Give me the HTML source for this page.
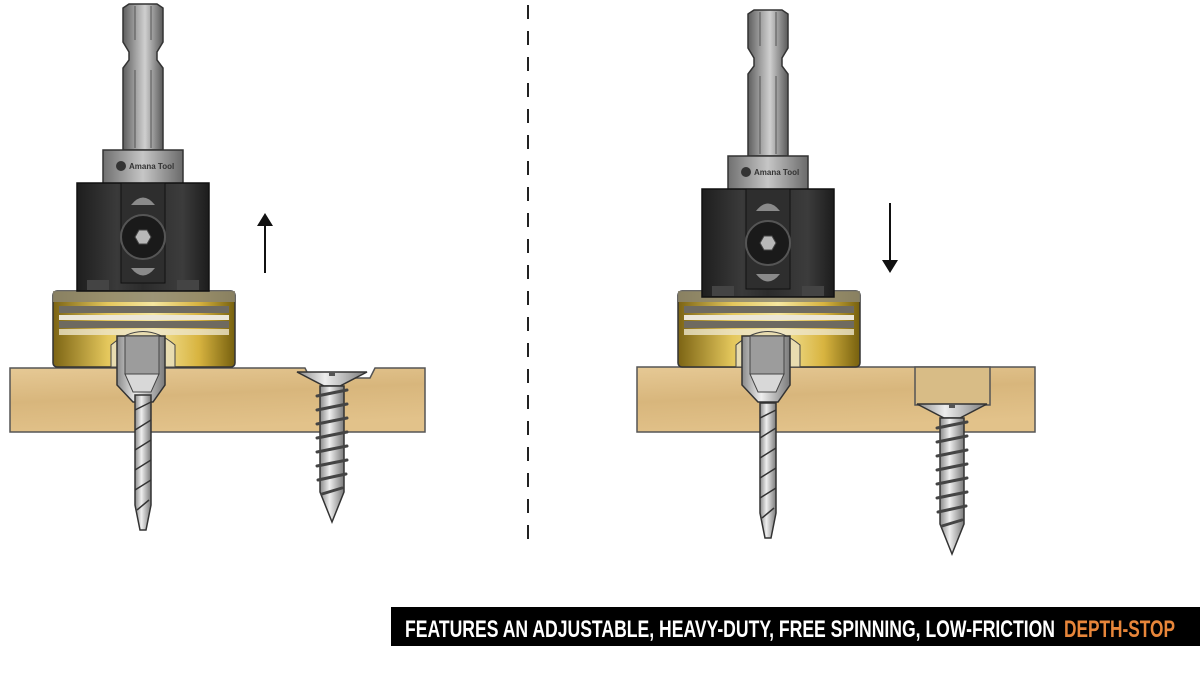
<!DOCTYPE html>
<html><head><meta charset="utf-8"><style>
html,body{margin:0;padding:0;background:#fff;}
svg{display:block;}
</style></head><body>
<svg width="1200" height="682" viewBox="0 0 1200 682" xmlns="http://www.w3.org/2000/svg">
<defs>
<linearGradient id="steel" x1="0" x2="1" y1="0" y2="0">
<stop offset="0" stop-color="#5e5e5e"/><stop offset="0.35" stop-color="#a8a8a8"/><stop offset="0.55" stop-color="#cfcfcf"/><stop offset="1" stop-color="#5a5a5a"/></linearGradient>
<linearGradient id="collar" x1="0" x2="1"><stop offset="0" stop-color="#707070"/><stop offset="0.5" stop-color="#c6c6c6"/><stop offset="1" stop-color="#6a6a6a"/></linearGradient>
<linearGradient id="body" x1="0" x2="1"><stop offset="0" stop-color="#1e1e1e"/><stop offset="0.3" stop-color="#3a3a3a"/><stop offset="0.5" stop-color="#2c2c2c"/><stop offset="0.8" stop-color="#3c3c3c"/><stop offset="1" stop-color="#1c1c1c"/></linearGradient>
<linearGradient id="brass" x1="0" x2="1"><stop offset="0" stop-color="#7c6414"/><stop offset="0.3" stop-color="#e4c75c"/><stop offset="0.55" stop-color="#f6e7a0"/><stop offset="0.8" stop-color="#d8b440"/><stop offset="1" stop-color="#76600e"/></linearGradient>
<linearGradient id="wood" x1="0" x2="0.3" y1="0" y2="1"><stop offset="0" stop-color="#e6c995"/><stop offset="0.5" stop-color="#d8b67c"/><stop offset="1" stop-color="#e2c28a"/></linearGradient>
<linearGradient id="screw" x1="0" x2="1"><stop offset="0" stop-color="#8a8a8a"/><stop offset="0.4" stop-color="#eeeeee"/><stop offset="1" stop-color="#7a7a7a"/></linearGradient>
<g id="tool">
  <path d="M-20,8 L-14,4 L14,4 L20,8 L20,42 L14,52 L14,60 L20,68 L20,150 L-20,150 L-20,68 L-14,60 L-14,52 L-20,42 Z" fill="url(#steel)" stroke="#333" stroke-width="1.5"/>
  <line x1="-8" y1="6" x2="-8" y2="40" stroke="#555"/><line x1="8" y1="6" x2="8" y2="40" stroke="#555"/>
  <line x1="-8" y1="70" x2="-8" y2="148" stroke="#555"/><line x1="8" y1="70" x2="8" y2="148" stroke="#555"/>
  <rect x="-40" y="150" width="80" height="34" fill="url(#collar)" stroke="#333" stroke-width="1.5"/>
  <circle cx="-22" cy="166" r="5" fill="#333"/>
  <text x="-14" y="169" font-family="Liberation Sans, sans-serif" font-size="8" font-weight="bold" fill="#333">Amana Tool</text>
  <rect x="-66" y="183" width="132" height="108" fill="url(#body)" stroke="#111" stroke-width="1.5"/>
  <rect x="-22" y="183" width="44" height="100" fill="#2e2e2e" stroke="#111"/>
  <rect x="-56" y="280" width="22" height="10" fill="#444"/><rect x="34" y="280" width="22" height="10" fill="#444"/>
  <path d="M-12,205 Q0,190 12,205 Z" fill="#8a8a8a"/>
  <path d="M-12,268 Q0,283 12,268 Z" fill="#8a8a8a"/>
  <circle cx="0" cy="237" r="22" fill="#1a1a1a" stroke="#555" stroke-width="2"/>
  <polygon points="-8,237 -4,230 4,230 8,237 4,244 -4,244" fill="#b8b8b8" stroke="#444"/>
</g>
<g id="brassring">
  <rect x="-90" y="291" width="182" height="76" rx="4" fill="url(#brass)" stroke="#333" stroke-width="1.5"/>
  <rect x="-90" y="291" width="182" height="11" fill="#8c8670" opacity="0.85"/>
  <rect x="-84" y="306" width="170" height="7" fill="#6e6a60"/>
  <rect x="-84" y="315" width="170" height="5" fill="#ebe6d8"/>
  <rect x="-84" y="321" width="170" height="7" fill="#6e6a60"/>
  <rect x="-84" y="329" width="170" height="6" fill="#eee6cc" opacity="0.8"/>
  <path d="M-32,367 L-32,345 Q0,318 32,345 L32,367 Z" fill="#e8dcb0" stroke="#444"/>
  <path d="M-26,336 L22,336 L22,385 L10,402 L-10,402 L-26,385 Z" fill="url(#screw)" stroke="#333" stroke-width="1.5"/>
  <rect x="-18" y="336" width="34" height="38" fill="#9c9c9c" stroke="#444"/>
  <path d="M-18,374 L16,374 L8,392 L-10,392 Z" fill="#d8d8d8" stroke="#444"/>
</g>
<g id="drill">
  <path d="M-8,395 L8,395 L8,505 L3,530 L-3,530 L-8,505 Z" fill="url(#screw)" stroke="#333" stroke-width="1.5"/>
  <path d="M-8,410 L8,402 M-8,430 L8,420 M-8,450 L8,440 M-8,470 L8,460 M-8,490 L8,480 M-6,510 L6,500" stroke="#333" stroke-width="1.5"/>
</g>
<g id="screwg">
  <path d="M-35,0 L35,0 L8,14 L-8,14 Z" fill="url(#screw)" stroke="#333" stroke-width="1.5"/>
  <rect x="-3" y="0" width="6" height="4" fill="#555"/>
  <path d="M-12,14 L12,14 L12,120 L0,150 L-12,120 Z" fill="url(#screw)" stroke="#333" stroke-width="1.5"/>
  <path d="M-15,24 L15,18 M-15,38 L15,32 M-15,52 L15,46 M-15,66 L15,60 M-15,80 L15,74 M-15,94 L15,88 M-14,108 L14,102 M-10,122 L10,116" stroke="#444" stroke-width="3" stroke-linecap="round"/>
</g>
</defs>

<line x1="528" y1="5" x2="528" y2="540" stroke="#222" stroke-width="2" stroke-dasharray="14,12"/>

<path d="M10,368 L305,368 L310,378 L370,378 L375,368 L425,368 L425,432 L10,432 Z" fill="url(#wood)" stroke="#555" stroke-width="1.5"/>
<g transform="translate(332,372)"><use href="#screwg"/></g>
<g transform="translate(143,0)"><use href="#brassring"/><use href="#drill"/><use href="#tool"/></g>
<line x1="265" y1="225" x2="265" y2="273" stroke="#111" stroke-width="2"/>
<polygon points="257,226 273,226 265,213" fill="#111"/>

<rect x="637" y="367" width="398" height="65" fill="url(#wood)" stroke="#555" stroke-width="1.5"/>
<rect x="915" y="367" width="75" height="38" fill="#d8bc86" stroke="#555" stroke-width="1.5"/>
<g transform="translate(952,404)"><use href="#screwg"/></g>
<g transform="translate(768,0)"><use href="#brassring"/><g transform="translate(0,8)"><use href="#drill"/></g><g transform="translate(0,6)"><use href="#tool"/></g></g>
<line x1="890" y1="203" x2="890" y2="262" stroke="#111" stroke-width="2"/>
<polygon points="882,260 898,260 890,273" fill="#111"/>

<rect x="391" y="607" width="809" height="39" fill="#000"/>
<text x="405" y="637" font-family="Liberation Sans, sans-serif" font-weight="bold" font-size="24" fill="#fff" textLength="650" lengthAdjust="spacingAndGlyphs">FEATURES AN ADJUSTABLE, HEAVY-DUTY, FREE SPINNING, LOW-FRICTION</text>
<text x="1064" y="637" font-family="Liberation Sans, sans-serif" font-weight="bold" font-size="24" fill="#e8863a" textLength="111" lengthAdjust="spacingAndGlyphs">DEPTH-STOP</text>
</svg>
</body></html>
